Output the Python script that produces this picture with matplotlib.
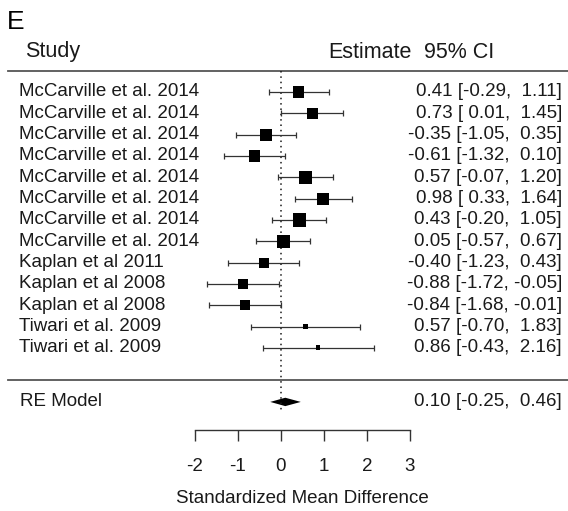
import numpy as np
import matplotlib
matplotlib.use("Agg")
import matplotlib.pyplot as plt

# Forest plot, panel E
studies = ["McCarville et al. 2014"] * 8 + [
    "Kaplan et al 2011", "Kaplan et al 2008", "Kaplan et al 2008",
    "Tiwari et al. 2009", "Tiwari et al. 2009"]
estimates = [0.41, 0.73, -0.35, -0.61, 0.57, 0.98, 0.43, 0.05, -0.40, -0.88, -0.84, 0.57, 0.86]
ci_low = [-0.29, 0.01, -1.05, -1.32, -0.07, 0.33, -0.20, -0.57, -1.23, -1.72, -1.68, -0.70, -0.43]
ci_high = [1.11, 1.45, 0.35, 0.10, 1.20, 1.64, 1.05, 0.67, 0.43, -0.05, -0.01, 1.83, 2.16]
weights = [8.5, 8.2, 8.7, 8.2, 9.2, 8.9, 9.7, 9.4, 7.3, 7.0, 7.3, 3.9, 3.6]  # % (square size)

re_label = "RE Model"
re_est, re_low, re_high = 0.10, -0.25, 0.46

xticks = [-2, -1, 0, 1, 2, 3]
xlabel = "Standardized Mean Difference"

plt.rcParams['font.family'] = ['Liberation Sans', 'DejaVu Sans']
ink = '#1a1a1a'
W, H = 568, 511
px_unit = 43.0      # pixels per effect unit
x_zero = 281.0      # pixel of effect 0
row_px = 21.33      # pixels per row
row0 = 92.0         # pixel of first row


def fx(px):
    # pixel column -> axes fraction
    return px / W


fig = plt.figure(figsize=(W / 100, H / 100), dpi=100)
ax = fig.add_axes([0, 0, 1, 1])
ax.set_xlim(-x_zero / px_unit, (W - x_zero) / px_unit)
ax.set_ylim((H - row0) / row_px, -row0 / row_px)

n = len(studies)
rows = np.arange(n)
re_row = n - 1 + 2.53
line_top, line_bot = -1.0, n - 1 + 1.5

# separators and reference line
for yy in (line_top, line_bot):
    ax.axhline(yy, xmin=fx(8), xmax=1, color='#555555', lw=1.3)
ax.vlines(0, line_top, 15.05, colors=ink, linestyles=(0, (1, 2.5)), lw=1.1)

# confidence intervals with end caps
cap = 2.9 / row_px
ax.hlines(rows, ci_low, ci_high, colors='#333333', lw=0.9)
ax.vlines(ci_low, rows - cap, rows + cap, colors='#333333', lw=0.9)
ax.vlines(ci_high, rows - cap, rows + cap, colors='#333333', lw=0.9)

# squares sized by weight
side_pt = np.array(weights) * 1.376 * 0.72
ax.scatter(estimates, rows, marker='s', s=side_pt ** 2, color='black', linewidths=0, zorder=3)

# summary diamond
h = 4.2 / row_px
ax.fill([re_low, re_est, re_high, re_est], [re_row, re_row - h, re_row, re_row + h],
        color='black', lw=0)

# text columns
fs = 13.5
for r, name, e, lo, hi in zip(rows, studies, estimates, ci_low, ci_high):
    ax.text(fx(19), r, name, transform=ax.get_yaxis_transform(), ha='left', va='center',
            fontsize=fs, color=ink)
    ax.text(fx(562), r, f"{e:.2f} [{lo:5.2f}, {hi:5.2f}]", transform=ax.get_yaxis_transform(),
            ha='right', va='center', fontsize=fs, color=ink)
ax.text(fx(20), re_row, re_label, transform=ax.get_yaxis_transform(), ha='left', va='center',
        fontsize=fs, color=ink)
ax.text(fx(562), re_row, f"{re_est:.2f} [{re_low:5.2f}, {re_high:5.2f}]",
        transform=ax.get_yaxis_transform(), ha='right', va='center', fontsize=fs, color=ink)

hdr_y = (52 - row0) / row_px
ax.text(fx(25), hdr_y, "Study", transform=ax.get_yaxis_transform(), ha='left', va='center',
        fontsize=15.5, color=ink)
ax.text(fx(328), hdr_y, "Estimate", transform=ax.get_yaxis_transform(), ha='left', va='center',
        fontsize=15.5, color=ink)
ax.text(fx(494), hdr_y, "95% CI", transform=ax.get_yaxis_transform(), ha='right', va='center',
        fontsize=15.5, color=ink)
ax.text(fx(7), (22 - row0) / row_px, "E", transform=ax.get_yaxis_transform(), ha='left',
        va='center', fontsize=19, color='black')

# x axis
for s in ('top', 'left', 'right'):
    ax.spines[s].set_visible(False)
ax.spines['bottom'].set_position(('data', (430 - row0) / row_px))
ax.spines['bottom'].set_bounds(xticks[0], xticks[-1])
ax.spines['bottom'].set_color('#333333')
ax.spines['bottom'].set_linewidth(1.0)
ax.set_xticks(xticks)
ax.set_xticklabels([str(t) for t in xticks])
ax.tick_params(axis='x', direction='out', length=8, width=1.0, color='#333333',
               labelsize=fs, labelcolor=ink, pad=12)
ax.set_yticks([])
ax.text(np.mean([xticks[0], xticks[-1]]), (498 - row0) / row_px, xlabel, ha='center',
        va='center', fontsize=fs, color=ink)

fig.savefig("out.png", dpi=100)
